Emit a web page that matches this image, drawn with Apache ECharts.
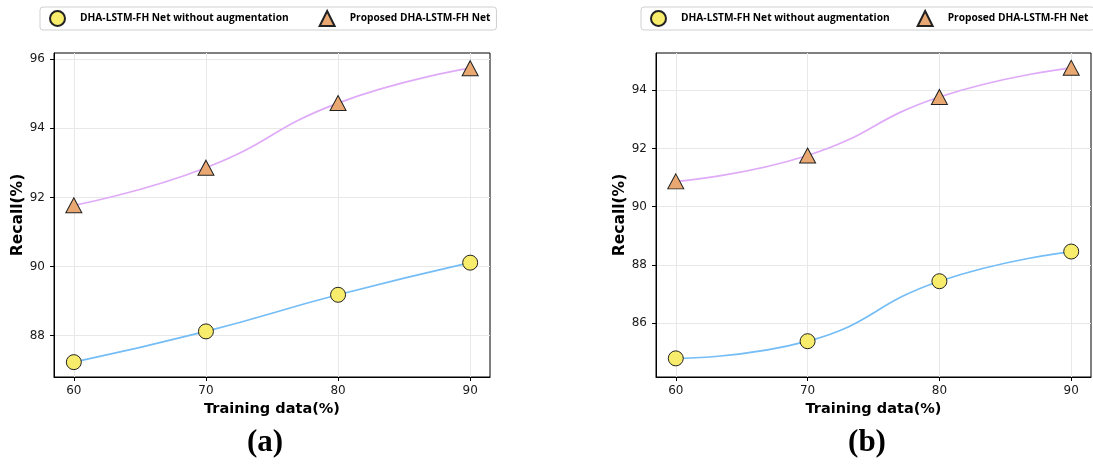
<!DOCTYPE html>
<html>
<head>
<meta charset="utf-8">
<script src="https://cdn.jsdelivr.net/npm/echarts@6/dist/echarts.min.js"></script>
<style>
html,body{margin:0;padding:0;background:#fff;}
#chart{width:1093px;height:466px;}
</style>
</head>
<body>
<div id="chart"></div>
<script>
// ---- data ----
const trainingData = [60, 70, 80, 90];
const xTicks = [60, 70, 80, 90];
const seriesNames = ['DHA-LSTM-FH Net without augmentation', 'Proposed DHA-LSTM-FH Net'];
// panel (a)
const recallA_without = [87.23, 88.12, 89.18, 90.11];
const recallA_proposed = [91.77, 92.86, 94.73, 95.74];
const yTicksA = [88, 90, 92, 94, 96];
// panel (b)
const recallB_without = [84.79, 85.38, 87.44, 88.46];
const recallB_proposed = [90.87, 91.76, 93.77, 94.77];
const yTicksB = [86, 88, 90, 92, 94];
const captions = ['(a)', '(b)'];
const xAxisName = 'Training data(%)';
const yAxisName = 'Recall(%)';

// ---- styles ----
const circleFill = '#f7ec6b';
const triFill = '#e9a872';
const edge = '#222222';
const blueLine = '#74bdf6';
const purpleLine = '#dfaaf8';
const gridCol = '#e8e8e8';

function pairs(xs, ys) { return xs.map((x, i) => [x, ys[i]]); }

function makeX(gi) {
  return {
    type: 'value', gridIndex: gi, min: 58.5, max: 91.5,
    name: xAxisName, nameLocation: 'middle', nameGap: 25,
    nameTextStyle: { fontFamily: 'DejaVu Sans', fontWeight: 'bold', fontSize: 14.5, color: '#000' },
    axisLine: { show: true, onZero: false, lineStyle: { color: '#000', width: 1 } },
    axisTick: { show: true, length: 4, inside: false, customValues: xTicks, lineStyle: { color: '#000' } },
    axisLabel: { customValues: xTicks, margin: 8, fontFamily: 'DejaVu Sans', fontSize: 12, color: '#1a1a1a' },
    splitLine: { show: true, lineStyle: { color: gridCol, width: 1 } }
  };
}
function makeY(gi, min, max, ticks) {
  return {
    type: 'value', gridIndex: gi, min: min, max: max,
    name: yAxisName, nameLocation: 'middle', nameGap: 28,
    nameTextStyle: { fontFamily: 'DejaVu Sans', fontWeight: 'bold', fontSize: 15.5, color: '#000' },
    axisLine: { show: true, onZero: false, lineStyle: { color: '#000', width: 1 } },
    axisTick: { show: true, length: 4, inside: false, customValues: ticks, lineStyle: { color: '#000' } },
    axisLabel: { customValues: ticks, margin: 9, fontFamily: 'DejaVu Sans', fontSize: 12, color: '#1a1a1a' },
    splitLine: { show: true, lineStyle: { color: gridCol, width: 1 } }
  };
}
function lineSeries(name, gi, ys, symbol, fill, lineCol, size) {
  return {
    type: 'line', name: name, xAxisIndex: gi, yAxisIndex: gi,
    data: pairs(trainingData, ys), smooth: 0.5,
    symbol: symbol, symbolSize: size, showSymbol: true,
    lineStyle: { color: lineCol, width: 1.7 },
    itemStyle: { color: fill, borderColor: edge, borderWidth: 1 },
    emphasis: { disabled: true }
  };
}
function makeLegend(left, top, gap) {
  return {
    left: left, top: top, width: 520, orient: 'horizontal',
    padding: [3, 6, 3, 9], itemGap: gap, itemWidth: 15, itemHeight: 15,
    borderColor: '#d0d0d0', borderWidth: 1, borderRadius: 3,
    backgroundColor: '#fff',
    textStyle: { fontFamily: 'Open Sans', fontWeight: 'bold', fontSize: 10.2, color: '#000', padding: [0, 0, 0, 10] },
    data: [{ name: seriesNames[0], icon: 'circle' }, { name: seriesNames[1], icon: 'triangle' }],
    selectedMode: false
  };
}

const chart = echarts.init(document.getElementById('chart'), null, { renderer: 'canvas' });
chart.setOption({
  animation: false,
  backgroundColor: '#fff',
  grid: [
    { left: 54, top: 53, width: 436, height: 324, show: true, borderColor: '#000', borderWidth: 1, backgroundColor: 'transparent' },
    { left: 656, top: 53, width: 435, height: 324, show: true, borderColor: '#000', borderWidth: 1, backgroundColor: 'transparent' }
  ],
  xAxis: [makeX(0), makeX(1)],
  yAxis: [makeY(0, 86.8, 96.18, yTicksA), makeY(1, 84.15, 95.28, yTicksB)],
  legend: [makeLegend(40, 7, 30), makeLegend(641, 7, 27)],
  series: [
    lineSeries(seriesNames[0], 0, recallA_without, 'circle', circleFill, blueLine, 15),
    lineSeries(seriesNames[1], 0, recallA_proposed, 'triangle', triFill, purpleLine, [16, 15]),
    lineSeries(seriesNames[0], 1, recallB_without, 'circle', circleFill, blueLine, 15),
    lineSeries(seriesNames[1], 1, recallB_proposed, 'triangle', triFill, purpleLine, [16, 15])
  ],
  graphic: [
    { type: 'text', x: 265, y: 443, style: { text: captions[0], fontFamily: 'Liberation Serif', fontWeight: 'bold', fontSize: 31, fill: '#000', align: 'center', verticalAlign: 'middle' } },
    { type: 'text', x: 867, y: 443, style: { text: captions[1], fontFamily: 'Liberation Serif', fontWeight: 'bold', fontSize: 31, fill: '#000', align: 'center', verticalAlign: 'middle' } }
  ]
});
</script>
</body>
</html>
